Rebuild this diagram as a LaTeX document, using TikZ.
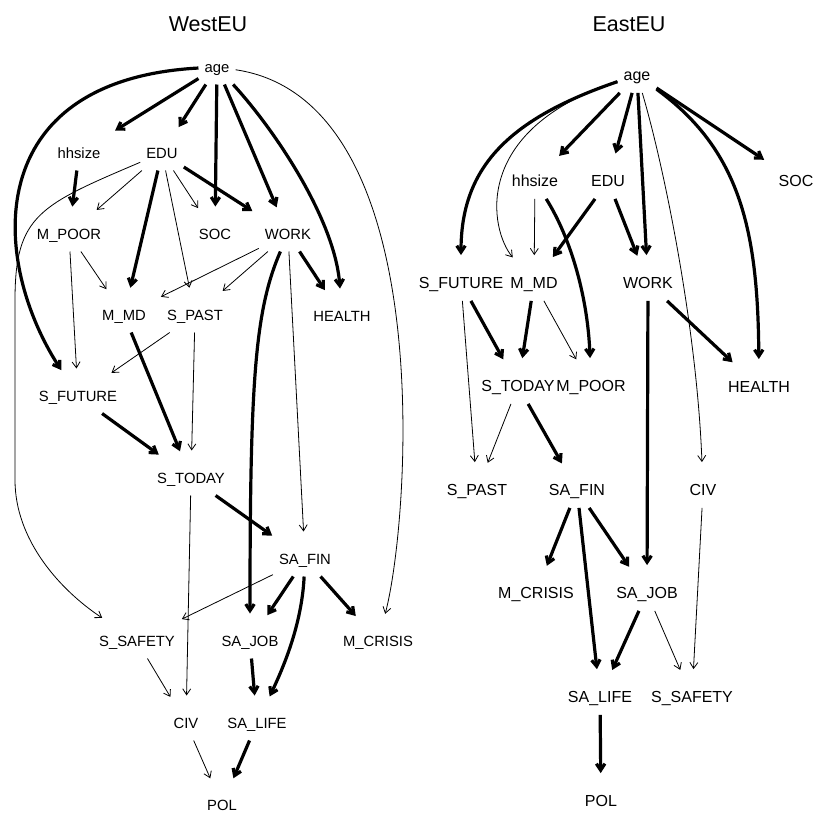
\documentclass[tikz,border=0pt]{standalone}
\usepackage{fontspec}
\setmainfont{Liberation Sans}
\usepackage{tikz}
\usetikzlibrary{arrows.meta}

\begin{document}
\begin{tikzpicture}[x=1pt, y=-1pt,
    var/.style={inner xsep=6pt, inner ysep=12pt, text height=10.6pt, text depth=0pt,
                font=\fontsize{14.8}{16}\selectfont},
    bigvar/.style={var, text height=11.4pt, font=\fontsize{16}{18}\selectfont},
    grouptitle/.style={font=\fontsize{21.5}{24}\selectfont},
    weak/.style={-{Straight Barb[length=6pt,width=8pt]}, line width=0.8pt, shorten >=10pt},
    strong/.style={-{Straight Barb[length=6.5pt,width=8.5pt]}, line width=3.2pt, shorten >=10pt}]
    \useasboundingbox (0,0) rectangle (817,814);

    % WestEU
    \node[grouptitle] (wtitle) at (208,24) {WestEU};
    \node[var] (wage)    at (217,67)  {age};
    \node[var] (whh)     at (79,153)  {hhsize};
    \node[var] (wedu)    at (162,153) {EDU};
    \node[var] (wmpoor)  at (69,234)  {M\_POOR};
    \node[var] (wsoc)    at (215,234) {SOC};
    \node[var] (wwork)   at (288,234) {WORK};
    \node[var] (wmmd)    at (124,315) {M\_MD};
    \node[var] (wspast)  at (195,315) {S\_PAST};
    \node[var] (whealth) at (342,316) {HEALTH};
    \node[var] (wsfut)   at (78,396)  {S\_FUTURE};
    \node[var] (wstoday) at (191,478) {S\_TODAY};
    \node[var] (wsafin)  at (305,559) {SA\_FIN};
    \node[var] (wssafe)  at (137,641) {S\_SAFETY};
    \node[var] (wsajob)  at (250,641) {SA\_JOB};
    \node[var] (wmcris)  at (378,641) {M\_CRISIS};
    \node[var] (wciv)    at (186,723) {CIV};
    \node[var] (wsalife) at (257,723) {SA\_LIFE};
    \node[var] (wpol)    at (222,805) {POL};

    \draw[strong] (wage) -- (whh);
    \draw[strong] (wage) -- (wedu);
    \draw[strong] (wage) -- (wsoc);
    \draw[strong] (wage) -- (wwork);
    \draw[strong] (wage) .. controls (275,130) and (335,220) .. (whealth);
    \draw[strong] (wage) .. controls (-20,80) and (-10,260) .. (wsfut);
    \draw[weak] (wage) .. controls (440,100) and (410,520) .. (wmcris);
    \draw[strong] (whh) -- (wmpoor);
    \draw[weak] (wedu) -- (wmpoor);
    \draw[strong] (wedu) -- (wmmd);
    \draw[weak] (wedu) -- (wspast);
    \draw[weak] (wedu) -- (wsoc);
    \draw[strong] (wedu) -- (wwork);
    \draw[weak] (wedu) .. controls (40,205) and (15,215) .. (15,300) -- (15,480)
        .. controls (15,540) and (60,590) .. (wssafe);
    \draw[weak] (wmpoor) -- (wmmd);
    \draw[weak] (wmpoor) -- (wsfut);
    \draw[weak] (wwork) -- (wmmd);
    \draw[weak] (wwork) -- (wspast);
    \draw[strong] (wwork) -- (whealth);
    \draw[strong] (wwork) .. controls (255,310) and (250,380) .. (wsajob);
    \draw[weak] (wwork) -- (wsafin);
    \draw[weak] (wspast) -- (wsfut);
    \draw[weak] (wspast) -- (wstoday);
    \draw[strong] (wmmd) -- (wstoday);
    \draw[strong] (wsfut) -- (wstoday);
    \draw[strong] (wstoday) -- (wsafin);
    \draw[weak] (wstoday) -- (wciv);
    \draw[weak] (wsafin) -- (wssafe);
    \draw[strong] (wsafin) -- (wsajob);
    \draw[strong] (wsafin) .. controls (302,620) and (287,660) .. (wsalife);
    \draw[strong] (wsafin) -- (wmcris);
    \draw[weak] (wssafe) -- (wciv);
    \draw[strong] (wsajob) -- (wsalife);
    \draw[weak] (wciv) -- (wpol);
    \draw[strong] (wsalife) -- (wpol);

    % EastEU
    \node[grouptitle] (etitle) at (629,24) {EastEU};
    \node[bigvar] (eage)    at (637,75)  {age};
    \node[bigvar] (ehh)     at (535,181) {hhsize};
    \node[bigvar] (eedu)    at (608,181) {EDU};
    \node[bigvar] (esoc)    at (796,181) {SOC};
    \node[bigvar] (esfut)   at (461,283) {S\_FUTURE};
    \node[bigvar] (emmd)    at (534,283) {M\_MD};
    \node[bigvar] (ework)   at (648,283) {WORK};
    \node[bigvar] (estoday) at (518,386) {S\_TODAY};
    \node[bigvar] (empoor)  at (591,386) {M\_POOR};
    \node[bigvar] (ehealth) at (759,387) {HEALTH};
    \node[bigvar] (espast)  at (477,490) {S\_PAST};
    \node[bigvar] (esafin)  at (577,490) {SA\_FIN};
    \node[bigvar] (eciv)    at (703,490) {CIV};
    \node[bigvar] (emcris)  at (536,593) {M\_CRISIS};
    \node[bigvar] (esajob)  at (647,593) {SA\_JOB};
    \node[bigvar] (esalife) at (600,697) {SA\_LIFE};
    \node[bigvar] (essafe)  at (692,697) {S\_SAFETY};
    \node[bigvar] (epol)    at (601,801) {POL};

    \draw[strong] (eage) -- (ehh);
    \draw[strong] (eage) -- (eedu);
    \draw[strong] (eage) -- (ework);
    \draw[strong] (eage) -- (esoc);
    \draw[strong] (eage) .. controls (505,120) and (461,170) .. (esfut);
    \draw[weak] (eage) .. controls (470,130) and (490,230) .. (emmd);
    \draw[strong] (eage) .. controls (740,150) and (758,230) .. (ehealth);
    \draw[weak] (eage) .. controls (665,170) and (697,330) .. (eciv);
    \draw[weak] (ehh) -- (emmd);
    \draw[strong] (ehh) .. controls (572,240) and (588,300) .. (empoor);
    \draw[strong] (eedu) -- (emmd);
    \draw[strong] (eedu) -- (ework);
    \draw[weak] (esfut) -- (espast);
    \draw[strong] (esfut) -- (estoday);
    \draw[strong] (emmd) -- (estoday);
    \draw[weak] (emmd) -- (empoor);
    \draw[strong] (ework) -- (ehealth);
    \draw[strong] (ework) -- (esajob);
    \draw[weak] (estoday) -- (espast);
    \draw[strong] (estoday) -- (esafin);
    \draw[strong] (esafin) -- (emcris);
    \draw[strong] (esafin) -- (esalife);
    \draw[strong] (esafin) -- (esajob);
    \draw[weak] (eciv) -- (essafe);
    \draw[strong] (esajob) -- (esalife);
    \draw[weak] (esajob) -- (essafe);
    \draw[strong] (esalife) -- (epol);
\end{tikzpicture}
\end{document}
